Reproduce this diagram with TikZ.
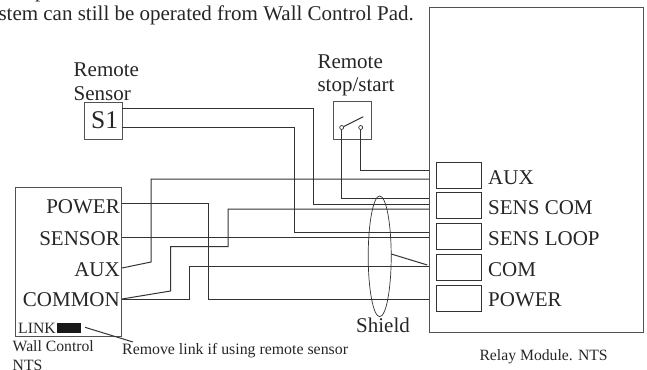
\documentclass[tikz,border=0pt]{standalone}
\usepackage{fontspec}
\usetikzlibrary{shapes.geometric}
\setmainfont{Liberation Serif}
\definecolor{wire}{HTML}{333333}
\tikzset{
  wireline/.style={draw=wire,line width=1pt},
  boxline/.style={draw=wire!85!white,line width=1pt},
  big/.style={inner sep=0pt,font=\fontsize{21}{24}\selectfont,text=black!85},
  small/.style={inner sep=0pt,font=\fontsize{15.7}{18}\selectfont,text=black!85},
  term/.style={draw=wire,line width=1pt,minimum width=44.7pt,minimum height=26pt,inner sep=0pt,anchor=north west},
}
\begin{document}
\begin{tikzpicture}[x=1pt,y=-1pt]
\useasboundingbox (0,0) rectangle (647,369);
% boxes
\node[boxline,minimum width=106pt,minimum height=149pt,inner sep=0pt,anchor=north west] (wall) at (15,187) {};
\node[boxline,minimum width=38pt,minimum height=37pt,inner sep=0pt,anchor=north west] (s1) at (83.5,102) {};
\node[inner sep=0pt,font=\fontsize{25.5}{28}\selectfont,text=black!85,anchor=base west] (s1t) at (91,128.5) {S1};
\node[boxline,minimum width=38pt,minimum height=38pt,inner sep=0pt,anchor=north west] (sw) at (333.3,101.3) {};
\node[boxline,minimum width=214pt,minimum height=324.7pt,inner sep=0pt,anchor=north west] (relay) at (428.7,7) {};
\node[term] (t1) at (436,162.3) {};
\node[term] (t2) at (436,192) {};
\node[term] (t3) at (436,223.3) {};
\node[term] (t4) at (436,254) {};
\node[term] (t5) at (436,285.3) {};
% terminal labels
\node[big,anchor=base west] (l1) at (488,184) {AUX};
\node[big,anchor=base west] (l2) at (488,214) {SENS COM};
\node[big,anchor=base west] (l3) at (488,245.3) {SENS LOOP};
\node[big,anchor=base west] (l4) at (488,276) {COM};
\node[big,anchor=base west] (l5) at (488,306.7) {POWER};
% wall labels
\node[big,anchor=base east] (w1) at (120,213.3) {POWER};
\node[big,anchor=base east] (w2) at (120,245.7) {SENSOR};
\node[big,anchor=base east] (w3) at (120,276) {AUX};
\node[big,anchor=base east] (w4) at (120,306.7) {COMMON};
\node[small,anchor=base west] (lnk) at (18,333) {LINK};
\node[fill=black!90,minimum width=24pt,minimum height=10.4pt,inner sep=0pt,anchor=north west] (lnkb) at (57,322.3) {};
\coordinate (lnkr) at (85,327.3);
\coordinate (lnke) at (133,342);
\draw[wireline] (lnkr) -- (lnke);
% other labels
\node[small,anchor=base west] (wc) at (12.5,351.7) {Wall Control};
\node[small,anchor=base west] (nts) at (12.5,370) {NTS};
\node[small,anchor=base west,font=\fontsize{15.85}{18}\selectfont] (rm) at (122,354) {Remove link if using remote sensor};
\node[small,anchor=base west] (rel) at (479.3,360) {Relay Module. NTS};
\node[big,anchor=base west] (sh) at (356,332.7) {Shield};
\node[big,anchor=base west] (rs1) at (73.5,76) {Remote};
\node[big,anchor=base west] (rs2) at (73.5,100) {Sensor};
\node[big,anchor=base west] (st1) at (317.3,68) {Remote};
\node[big,anchor=base west] (st2) at (317.3,91) {stop/start};
\node[big,anchor=base east] (top) at (414,21) {System can still be operated from Wall Control Pad.};
\node[big,anchor=base west] (topp) at (35,-2) {p};
% switch
\node[draw=wire,circle,minimum size=4pt,inner sep=0pt,line width=0.7pt] (c1) at (341.7,127.5) {};
\node[draw=wire,circle,minimum size=4pt,inner sep=0pt,line width=0.7pt] (c2) at (360.7,127.5) {};
\coordinate (blade) at (363.3,116.7);
\draw[wireline] (c1) -- (blade);
% wires
\draw[wireline] (c2.south) |- (429,170);
\draw[wireline] (c1.south) |- (429,198.7);
\draw[wireline] (121.5,108) -| (313,204) -- (429,204);
\draw[wireline] (121.5,127) -| (294,232) -- (429,232);
\draw[wireline] (122,268) -- (151,262) |- (429,179);
\draw[wireline] (122,299) -- (170.5,291) |- (228,246.7) |- (429,209);
\draw[wireline] (122,237.3) -- (429,237.3);
\draw[wireline] (122,299.3) -- (189.7,299.3) |- (429,266);
\draw[wireline] (122,203.7) -| (208.7,299.3) -- (429,299.3);
% shield
\node[draw=wire,ellipse,minimum width=23pt,minimum height=120.7pt,inner sep=0pt,line width=0.7pt] (shield) at (379.7,256.3) {};
\coordinate (shr) at (427.3,265);
\draw[wireline] (391.3,254) -- (shr);
\end{tikzpicture}
\end{document}
